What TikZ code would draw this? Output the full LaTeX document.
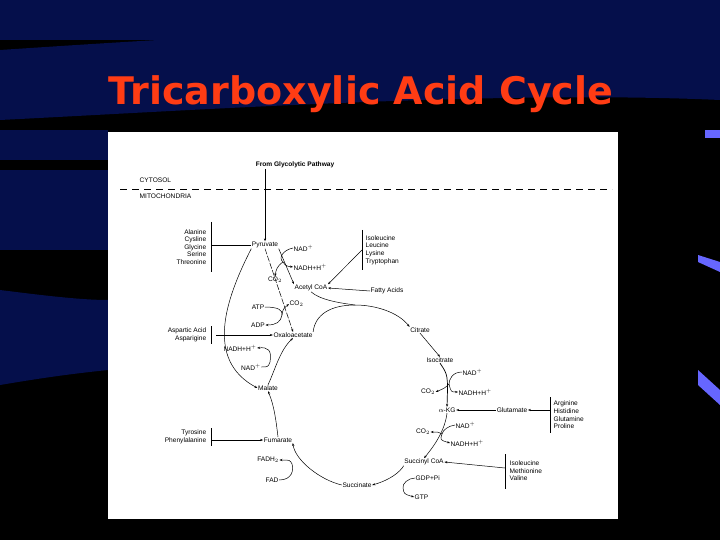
\documentclass[tikz,border=0pt]{standalone}
\usepackage{fontspec}
\setmainfont{Liberation Sans}
\newfontfamily\titlefont{DejaVu Sans}
\usetikzlibrary{arrows.meta}
\definecolor{titlered}{RGB}{255,60,20}
\definecolor{navy}{RGB}{5,15,75}
\begin{document}
\begin{tikzpicture}[x=1pt,y=-1pt,
  lbl/.style={inner sep=0.5pt,font=\fontsize{6.6}{7.5}\selectfont},
  lst/.style={inner sep=0.5pt,font=\fontsize{6.6}{7.6}\selectfont,align=left},
  lstr/.style={inner sep=0.5pt,font=\fontsize{6.6}{7.6}\selectfont,align=right},
  arr/.style={-{Stealth[length=3pt,width=2.2pt]},line width=0.5pt},
  ln/.style={line width=0.5pt},
  bar/.style={line width=0.8pt}]
\useasboundingbox (0,0) rectangle (720,540);
\fill[black] (0,0) rectangle (720,540);
\fill[navy] (0,0) rectangle (720,40);
\fill[navy] (0,50) .. controls (300,30) and (500,20) .. (720,40) -- (720,100) .. controls (500,90) and (200,110) .. (0,120) -- cycle;
\fill[navy] (0,130) rectangle (108,160);
\fill[navy] (0,170) rectangle (108,250);
\fill[navy] (0,290) .. controls (40,295) and (80,300) .. (108,300) -- (108,370) .. controls (60,375) and (30,380) .. (0,385) -- cycle;
\fill[blue!60!white] (705,130) rectangle (720,138);
\fill[blue!60!white] (698,255) -- (720,262) -- (720,272) -- (698,262) -- cycle;
\fill[blue!60!white] (698,370) -- (720,390) -- (720,405) -- (698,385) -- cycle;
\fill[white] (108,132) rectangle (618,519);
\node[inner sep=0pt,text=titlered,font=\titlefont\bfseries\fontsize{38}{40}\selectfont] (title) at (361,94) {Tricarboxylic Acid Cycle};

\node[lbl,font=\bfseries\fontsize{6.6}{7.5}\selectfont] (glyc) at (295,165) {From Glycolytic Pathway};
\node[lbl,anchor=west] (cyt) at (139,180) {CYTOSOL};
\node[lbl,anchor=west] (mito) at (139,196) {MITOCHONDRIA};
\coordinate (dl) at (120,189); \coordinate (dr) at (612,189);
\draw[dashed,line width=0.8pt,dash pattern=on 7pt off 5pt] (dl) -- (dr);

\node[lstr,anchor=east] (aa1) at (207,247) {Alanine\\Cysline\\Glycine\\Serine\\Threonine};
\coordinate (b1t) at (211,222); \coordinate (b1b) at (211,272); \coordinate (b1m) at (211,245);
\draw[ln] (b1t) -- (b1b);
\node[lbl] (pyr) at (265,245) {Pyruvate};
\draw[ln] (b1m) -- (pyr.west);
\draw[arr] (glyc.south -| pyr) -- (pyr.north);
\node[lbl,anchor=west] (nad1) at (293,248) {NAD$^+$};
\node[lbl,anchor=west] (nadh1) at (293,267) {NADH+H$^+$};
\node[lbl] (co2a) at (275,280) {CO$_2$};
\node[lbl] (acoa) at (311,288) {Acetyl CoA};
\node[lst,anchor=west] (aa2) at (365,250) {Isoleucine\\Leucine\\Lysine\\Tryptophan};
\coordinate (b2t) at (362,230); \coordinate (b2b) at (362,270); \coordinate (b2m) at (362,250);
\draw[ln] (b2t) -- (b2b);
\node[lbl,anchor=west] (fa) at (370,291) {Fatty Acids};
\draw[arr] (fa.west) -- (acoa.east);
\draw[arr] (b2m) -- (acoa.north east);
\draw[arr] (pyr.south east) -- (acoa.north west);
\draw[ln] (nad1.west) .. controls (283,250) and (278,258) .. (283,262);
\draw[arr] (283,262) .. controls (286,266) .. (nadh1.west);
\draw[arr] (283,262) .. controls (277,266) and (276,270) .. (co2a.north);

\node[lbl] (atp) at (258,307) {ATP};
\node[lbl,anchor=west] (co2b) at (289,304) {CO$_2$};
\node[lbl] (adp) at (258,325) {ADP};
\node[lbl] (oaa) at (293,335) {Oxaloacetate};
\draw[arr,dash pattern=on 6pt off 1.5pt] (pyr.south) -- (oaa.north);
\draw[ln] (atp.east) .. controls (278,307) and (283,310) .. (282,315);
\draw[arr] (282,315) .. controls (281,322) and (276,325) .. (adp.east);
\draw[arr] (282,315) .. controls (283,309) .. (co2b.west);

\node[lstr,anchor=east] (aa3) at (207,335) {Aspartic Acid\\Asparigine};
\coordinate (b3t) at (211,326); \coordinate (b3b) at (211,344); \coordinate (b3m) at (216,335);
\draw[ln] (b3t) -- (b3b);
\draw[arr] (b3m) -- (oaa.west);

\node[lbl] (mal) at (268,388) {Malate};
\draw[arr] (pyr.south west) .. controls (225,300) and (205,360) .. (mal.west);
\node[lbl] (nadh2) at (240,348) {NADH+H$^+$};
\node[lbl] (nad2) at (251,367) {NAD$^+$};
\draw[arr] (mal.north) .. controls (275,370) and (280,350) .. (oaa.south);
\draw[ln] (nad2.east) .. controls (268,367) .. (270,362);
\draw[arr] (270,362) .. controls (272,350) and (268,347) .. (nadh2.east);

\node[lbl] (cit) at (420,330) {Citrate};
\coordinate (top) at (355,305);
\draw[ln] (oaa.north east) .. controls (315,315) and (330,305) .. (top);
\draw[ln] (acoa.south) .. controls (320,300) and (340,303) .. (top);
\draw[arr] (top) .. controls (375,305) and (398,312) .. (cit.north west);

\node[lbl] (iso) at (440,360) {Isocitrate};
\draw[arr] (cit.south) -- (iso.north);
\node[lbl,anchor=west] (nad3) at (462,372) {NAD$^+$};
\node[lbl,anchor=west] (nadh3) at (458,392) {NADH+H$^+$};
\node[lbl] (co2c) at (428,392) {CO$_2$};
\node[lbl] (akg) at (447,410) {$\alpha$-KG};
\draw[arr,line width=0.7pt] (iso.south) .. controls (448,375) .. (akg.north);
\draw[ln] (nad3.west) .. controls (452,372) and (449,380) .. (449,384);
\draw[arr] (449,384) .. controls (451,392) .. (nadh3.west);
\draw[arr] (449,384) .. controls (445,388) .. (co2c.east);

\node[lbl] (glu) at (512,410) {Glutamate};
\node[lst,anchor=west] (aa4) at (553,415) {Arginine\\Histidine\\Glutamine\\Proline};
\coordinate (b4t) at (550,397); \coordinate (b4b) at (550,433); \coordinate (b4m) at (550,410);
\draw[bar] (b4t) -- (b4b);
\draw[arr] (b4m) -- (glu.east);
\draw[arr] (glu.west) -- (akg.east);

\node[lbl,anchor=west] (nad4) at (455,425) {NAD$^+$};
\node[lbl] (co2d) at (423,432) {CO$_2$};
\node[lbl,anchor=west] (nadh4) at (450,443) {NADH+H$^+$};
\node[lbl] (scoa) at (424,462) {Succinyl CoA};
\draw[arr] (akg.south) .. controls (445,430) and (435,445) .. (scoa.north);
\draw[ln] (nad4.west) .. controls (448,426) and (443,430) .. (442,434);
\draw[arr] (442,434) .. controls (440,440) .. (nadh4.west);
\draw[arr] (442,434) .. controls (438,432) .. (co2d.east);

\node[lst,anchor=west] (aa5) at (509,471) {Isoleucine\\Methionine\\Valine};
\coordinate (b5t) at (505,454); \coordinate (b5b) at (505,489); \coordinate (b5m) at (505,468);
\draw[ln] (b5t) -- (b5b);
\draw[arr] (b5m) -- (scoa.east);

\node[lbl,anchor=west] (gdp) at (415,478) {GDP+Pi};
\node[lbl,anchor=west] (gtp) at (414,497) {GTP};
\node[lbl] (suc) at (357,485) {Succinate};
\draw[arr] (scoa.south west) .. controls (400,472) and (390,480) .. (suc.east);
\draw[ln] (gdp.west) .. controls (408,478) and (402,484) .. (403,488);
\draw[arr] (403,488) .. controls (404,494) .. (gtp.west);

\node[lbl] (fum) at (278,440) {Fumarate};
\node[lbl] (fadh) at (268,460) {FADH$_2$};
\node[lbl] (fad) at (272,480) {FAD};
\draw[arr] (suc.west) .. controls (320,480) and (295,460) .. (fum.south east);
\draw[ln] (fad.east) .. controls (292,480) and (294,470) .. (292,464);
\draw[arr] (292,464) .. controls (290,460) .. (fadh.east);
\draw[arr] (fum.north) .. controls (276,420) and (274,405) .. (mal.south);

\node[lstr,anchor=east] (aa6) at (207,437) {Tyrosine\\Phenylalanine};
\coordinate (b6t) at (211,428); \coordinate (b6b) at (211,446); \coordinate (b6m) at (211,440);
\draw[bar] (b6t) -- (b6b);
\draw[arr] (b6m) -- (fum.west);
\end{tikzpicture}
\end{document}
